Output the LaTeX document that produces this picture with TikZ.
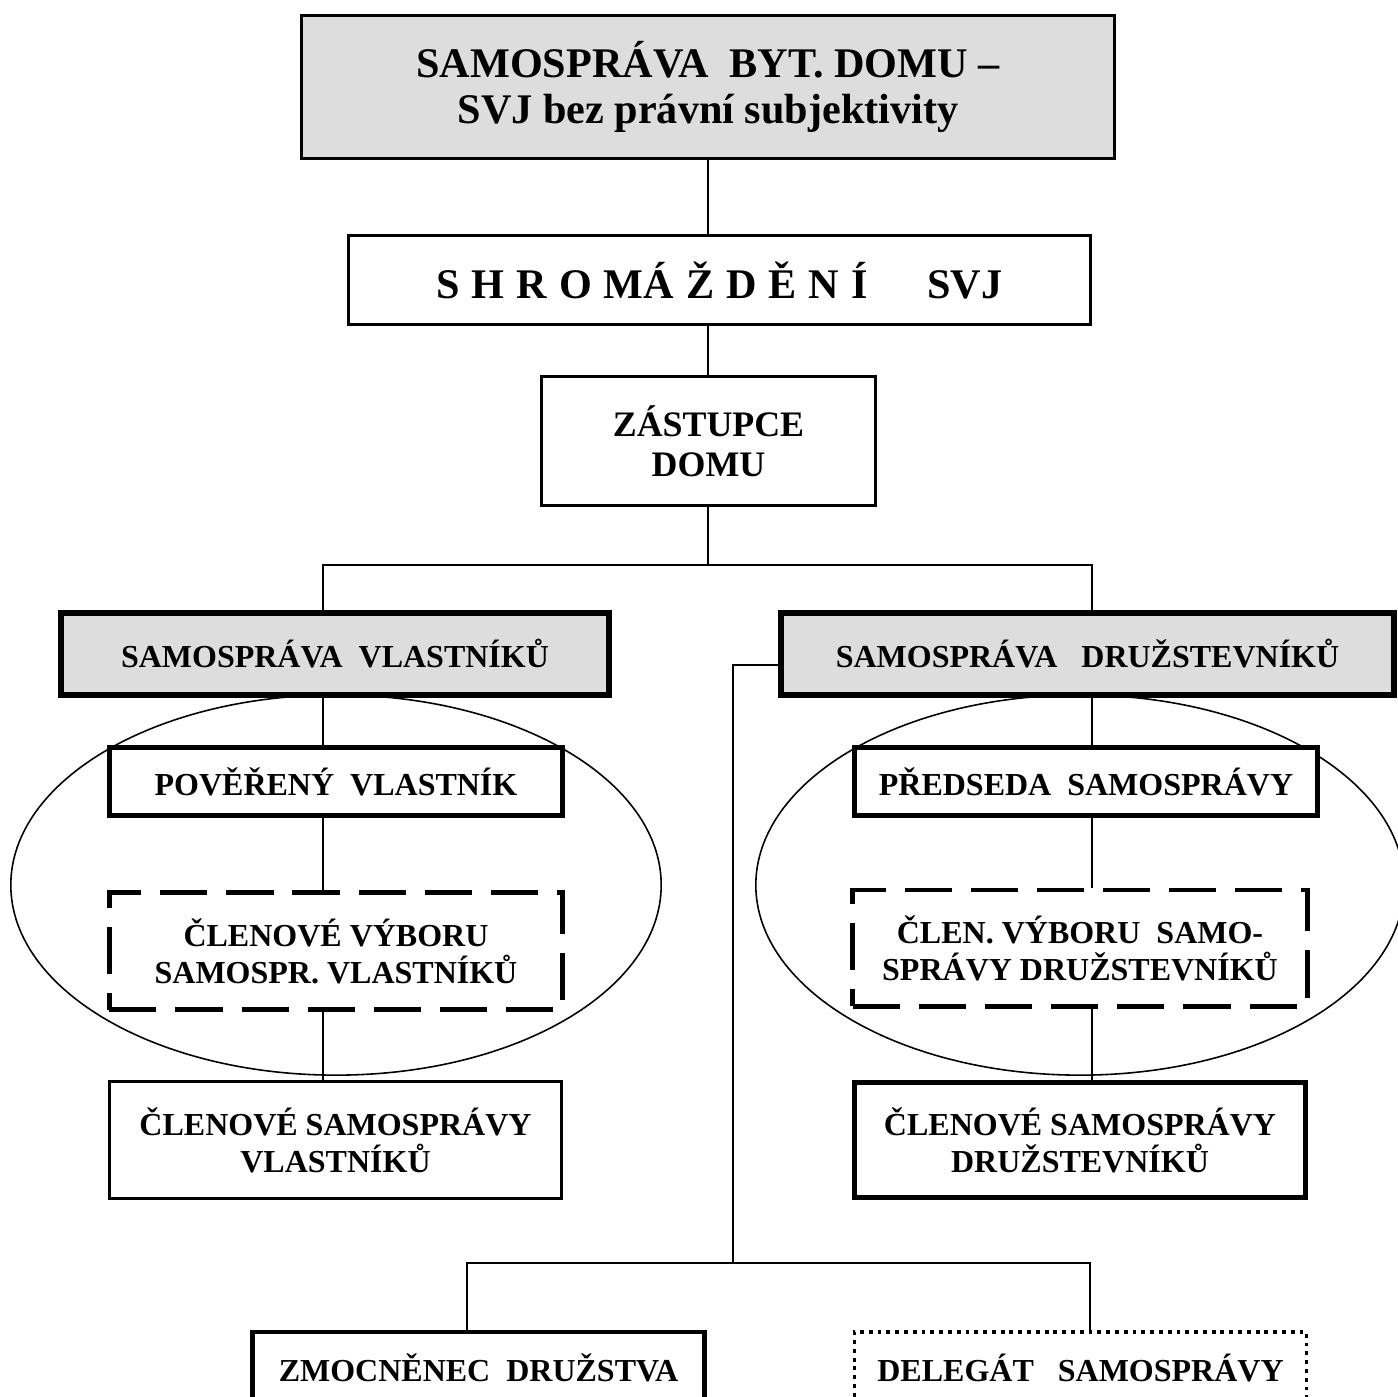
\documentclass[tikz,border=0pt]{standalone}
\usepackage{fontspec}
\setmainfont{Liberation Serif}
\definecolor{boxgray}{RGB}{221,221,221}
\newcommand{\gp}{\hspace{3.4pt}}

\begin{document}
\begin{tikzpicture}[x=0.01cm, y=-0.01cm,
    box/.style={draw, fill=white, inner sep=0pt, align=center,
      font=\bfseries\fontsize{9.1}{10.5}\selectfont},
    thinbox/.style={box, line width=0.85pt},
    thickbox/.style={box, line width=1.4pt},
    graybox/.style={box, line width=1.7pt, fill=boxgray},
    dashbox/.style={box, line width=1.4pt, dash pattern=on 13.4pt off 5.4pt},
    dotbox/.style={box, line width=0.9pt, dash pattern=on 1.1pt off 1.4pt},
    link/.style={line width=0.45pt}]
  \useasboundingbox (0,0) rectangle (1398,1396);
  \clip (0,0) rectangle (1398,1396);

  % ellipses behind the boxes
  \draw[link] (336,885) ellipse [x radius=3.25cm, y radius=1.9cm];
  \draw[link] (1080,885) ellipse [x radius=3.24cm, y radius=1.9cm];

  % upper part
  \node[thinbox, fill=boxgray, minimum width=8.13cm, minimum height=1.43cm,
    font=\bfseries\fontsize{12}{13.1}\selectfont] (title) at (708,87)
    {SAMOSPRÁVA~ BYT. DOMU –\\SVJ bez právní subjektivity};
  \node[thinbox, minimum width=7.42cm, minimum height=0.89cm,
    font=\bfseries\fontsize{12}{13.1}\selectfont] (shrom) at (719.5,280)
    {S\gp H\gp R\gp O\gp MÁ\gp Ž\gp D\gp Ě\gp N\gp Í\hspace{17pt}SVJ};
  \node[thinbox, minimum width=3.34cm, minimum height=1.29cm,
    font=\bfseries\fontsize{10.2}{11.4}\selectfont] (zast) at (708.5,441)
    {ZÁSTUPCE\\DOMU};

  % owners
  \node[graybox, minimum width=5.48cm, minimum height=0.82cm] (vlast) at (335,654)
    {SAMOSPRÁVA~ VLASTNÍKŮ};
  \node[thickbox, minimum width=4.53cm, minimum height=0.68cm] (pover) at (336,781.5)
    {POVĚŘENÝ~ VLASTNÍK};
  \node[dashbox, minimum width=4.53cm, minimum height=1.17cm] (vybV) at (336,951)
    {ČLENOVÉ VÝBORU\\SAMOSPR. VLASTNÍKŮ};
  \node[thinbox, minimum width=4.52cm, minimum height=1.17cm] (clenV) at (335.5,1140)
    {ČLENOVÉ SAMOSPRÁVY\\VLASTNÍKŮ};

  % cooperative members
  \node[graybox, minimum width=6.13cm, minimum height=0.82cm] (druz) at (1087.5,654)
    {SAMOSPRÁVA~~ DRUŽSTEVNÍKŮ};
  \node[thickbox, minimum width=4.63cm, minimum height=0.68cm] (preds) at (1086,781.5)
    {PŘEDSEDA~ SAMOSPRÁVY};
  \node[dashbox, minimum width=4.54cm, minimum height=1.16cm] (vybD) at (1080,948)
    {ČLEN. VÝBORU~ SAMO-\\SPRÁVY DRUŽSTEVNÍKŮ};
  \node[thickbox, minimum width=4.51cm, minimum height=1.15cm] (clenD) at (1080,1140)
    {ČLENOVÉ SAMOSPRÁVY\\DRUŽSTEVNÍKŮ};

  % bottom
  \node[thickbox, minimum width=4.52cm, minimum height=0.72cm] (zmoc) at (478.5,1368)
    {ZMOCNĚNEC~ DRUŽSTVA};
  \node[dotbox, minimum width=4.52cm, minimum height=0.72cm] (deleg) at (1080.5,1368)
    {DELEGÁT~~ SAMOSPRÁVY};

  % connectors
  \coordinate (split) at (708,565);
  \coordinate (jL) at (323,565);
  \coordinate (jR) at (1092,565);
  \coordinate (bend) at (733,665);
  \coordinate (fork) at (733,1263);
  \coordinate (fL) at (467,1263);
  \coordinate (fR) at (1090,1263);

  \draw[link] (title.south -| split) -- (shrom.north -| split);
  \draw[link] (shrom.south -| split) -- (zast.north -| split);
  \draw[link] (zast.south -| split) -- (split);
  \draw[link] (vlast.north -| jL) -- (jL) -- (jR) -- (druz.north -| jR);

  \draw[link] (vlast.south -| jL) -- (pover.north -| jL);
  \draw[link] (pover.south -| jL) -- (vybV.north -| jL);
  \draw[link] (vybV.south -| jL) -- (clenV.north -| jL);

  \draw[link] (druz.south -| jR) -- (preds.north -| jR);
  \draw[link] (preds.south -| jR) -- (vybD.north -| jR);
  \draw[link] (vybD.south -| jR) -- (clenD.north -| jR);

  \draw[link] (druz.west |- bend) -- (bend) -- (fork);
  \draw[link] (zmoc.north -| fL) -- (fL) -- (fR) -- (deleg.north -| fR);
\end{tikzpicture}
\end{document}
